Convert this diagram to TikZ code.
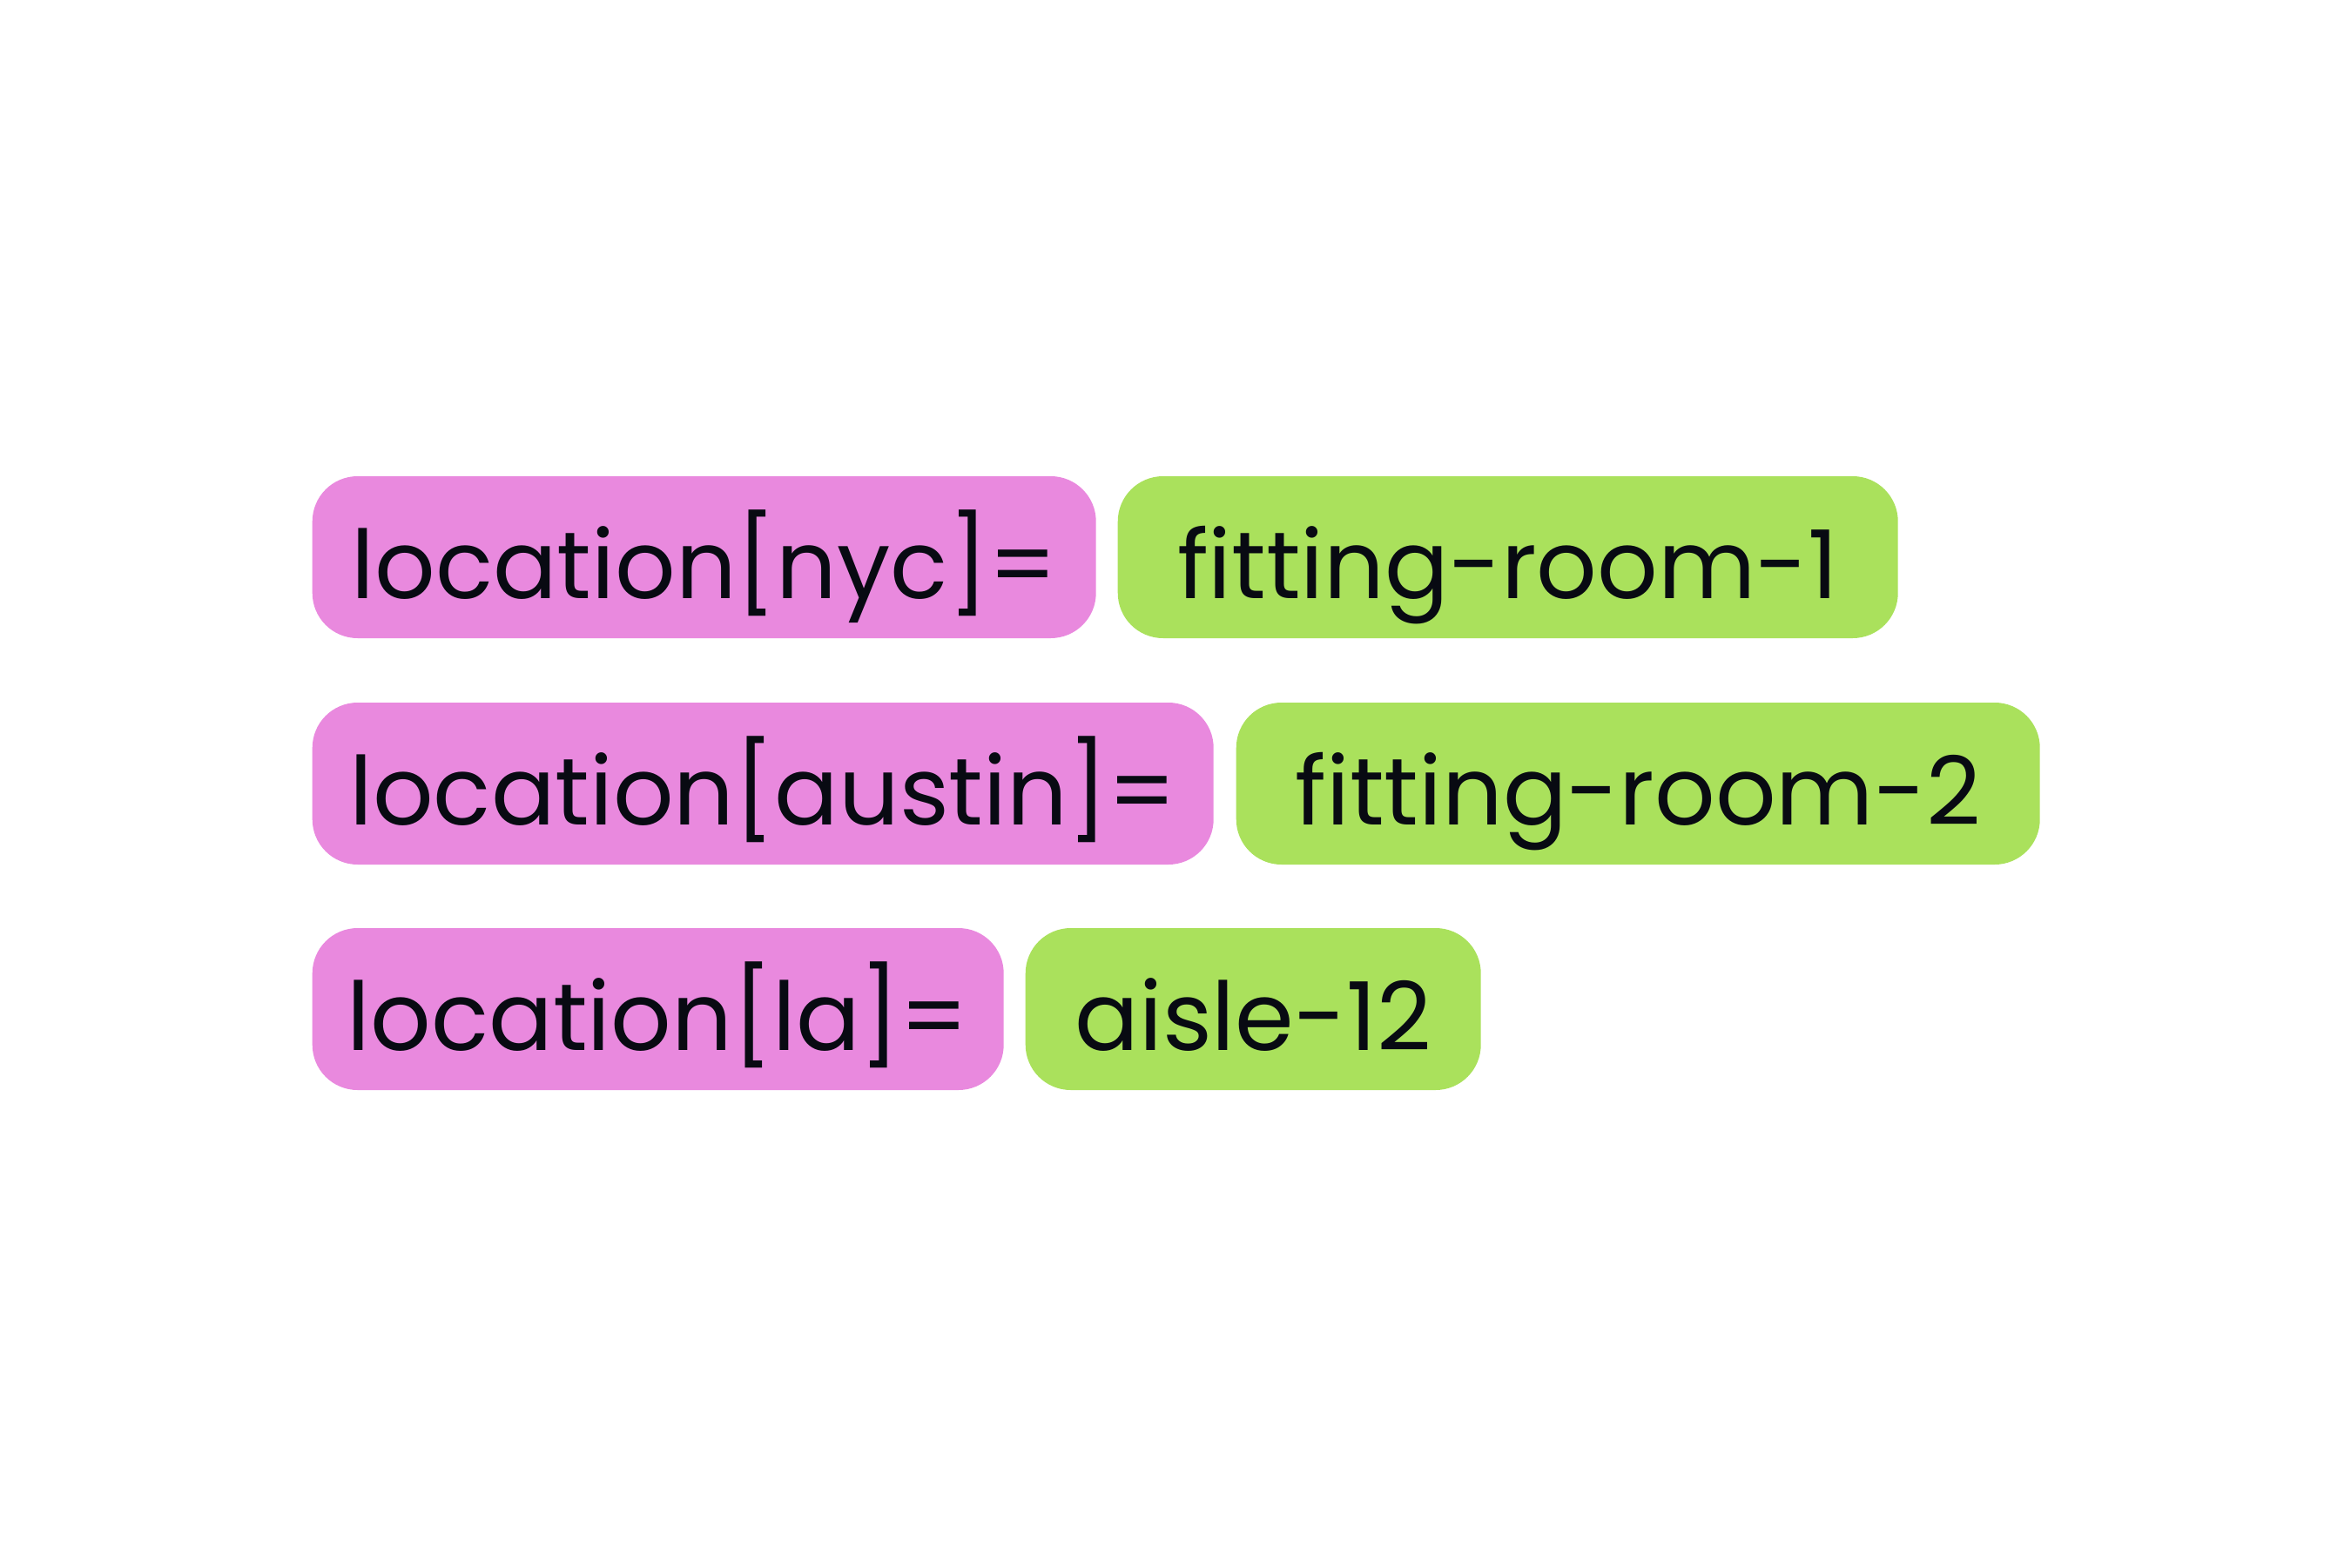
\documentclass[tikz,border=0pt]{standalone}
\usepackage{fontspec}
\setmainfont{Poppins}
\definecolor{pinkbox}{RGB}{233,137,222}
\definecolor{greenbox}{RGB}{170,225,92}
\definecolor{ink}{RGB}{8,10,18}
\tikzset{
  tag/.style={rounded corners=0.52cm, minimum height=1.86cm, anchor=west,
    inner sep=0pt, text height=0.95cm, text depth=0cm, align=center,
    font=\fontsize{31}{35}\selectfont, text=ink},
  keytag/.style={tag, fill=pinkbox},
  valtag/.style={tag, fill=greenbox}
}
\begin{document}
\begin{tikzpicture}
\useasboundingbox (0,0) rectangle (27,18);
\node[keytag, minimum width=9.00cm] (k1) at (3.58,11.60) {location[nyc]=};
\node[valtag, minimum width=8.96cm] (v1) at (12.83,11.60) {fitting-room-1};
\node[keytag, minimum width=10.35cm] (k2) at (3.58,9.00) {location[austin]=};
\node[valtag, minimum width=9.23cm] (v2) at (14.19,9.00) {fitting-room-2};
\node[keytag, minimum width=7.94cm] (k3) at (3.58,6.41) {location[la]=};
\node[valtag, minimum width=5.23cm] (v3) at (11.77,6.41) {aisle-12};
\end{tikzpicture}
\end{document}
